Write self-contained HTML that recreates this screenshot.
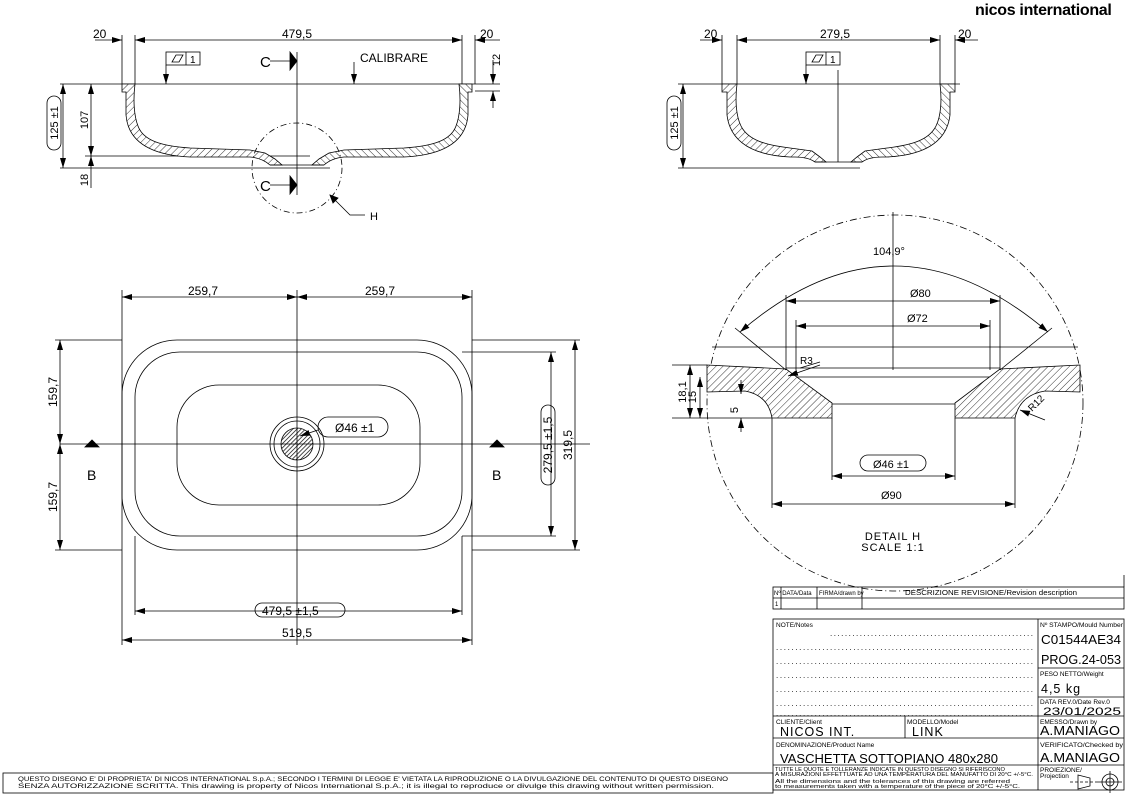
<!DOCTYPE html>
<html><head><meta charset="utf-8"><style>
html,body{margin:0;padding:0;background:#fff;}
svg{display:block;font-family:"Liberation Sans",sans-serif;}
text{fill:#000;}
</style></head><body>
<svg width="1129" height="798" viewBox="0 0 1129 798" xmlns="http://www.w3.org/2000/svg">
<defs>
<pattern id="h" width="5" height="5" patternUnits="userSpaceOnUse" patternTransform="rotate(45)"><rect width="5" height="5" fill="#fff"/><line x1="0" y1="0" x2="0" y2="5" stroke="#000" stroke-width="0.8"/></pattern>
<pattern id="hd" width="3" height="3" patternUnits="userSpaceOnUse" patternTransform="rotate(45)"><rect width="3" height="3" fill="#fff"/><line x1="0" y1="0" x2="0" y2="3" stroke="#000" stroke-width="1.4"/></pattern>
<marker id="a" viewBox="0 0 10 6" refX="10" refY="3" markerWidth="10" markerHeight="6" orient="auto-start-reverse" markerUnits="userSpaceOnUse"><path d="M0,0L10,3L0,6Z" fill="#000"/></marker>
</defs>
<g stroke="#000" stroke-width="0.8" fill="none">
<text x="975" y="15" font-size="16" stroke="none" font-weight="bold" letter-spacing="-0.3">nicos international</text>

<!-- FRONT SECTION -->
<line x1="60" y1="84" x2="500" y2="84"/>
<line x1="60" y1="168" x2="330" y2="168"/>
<line x1="85" y1="156" x2="310" y2="156"/>
<line x1="475" y1="91" x2="500" y2="91"/>
<line x1="122" y1="35" x2="122" y2="84"/><line x1="135" y1="35" x2="135" y2="84"/>
<line x1="462" y1="35" x2="462" y2="84"/><line x1="475" y1="35" x2="475" y2="84"/>
<line x1="95" y1="40" x2="122" y2="40" marker-end="url(#a)"/>
<line x1="135" y1="40" x2="462" y2="40" marker-start="url(#a)" marker-end="url(#a)"/>
<line x1="475" y1="40" x2="500" y2="40" marker-start="url(#a)"/>
<g stroke="none" font-size="12"><text x="93" y="38">20</text><text x="282" y="38">479,5</text><text x="480" y="38">20</text></g>
<path d="M122,84 L135,84 C133,100 134,116 138,126 C143,140 160,146 190,148 L250,150 L265,153 L275,159 L282,165 L270,165 Q262,158 250,157 L190,157 C148,155 128,140 126,115 L126,92 L122,92Z" fill="url(#h)"/>
<path transform="translate(594,0) scale(-1,1)" d="M122,84 L135,84 C133,100 134,116 138,126 C143,140 160,146 190,148 L250,150 L265,153 L275,159 L282,165 L270,165 Q262,158 250,157 L190,157 C148,155 128,140 126,115 L126,92 L122,92Z" fill="url(#h)"/>
<line x1="270" y1="165" x2="324" y2="165"/>
<line x1="297" y1="52" x2="297" y2="195"/>
<circle cx="297" cy="168" r="45" stroke-dasharray="6,3,1,3"/>
<path d="M290,52 L290,70 L297,61Z" fill="#000"/><line x1="270" y1="61" x2="290" y2="61"/>
<path d="M290,176 L290,194 L297,185Z" fill="#000"/><line x1="270" y1="185" x2="290" y2="185"/>
<g stroke="none" font-size="15"><text x="260" y="67">C</text><text x="260" y="191">C</text></g>
<path d="M330,195 L350,215 L365,215"/><path d="M330,195 L338,198 L333,203Z" fill="#000"/>
<text x="370" y="220" font-size="11" stroke="none">H</text>
<rect x="166" y="52" width="34" height="13"/><line x1="186" y1="52" x2="186" y2="65"/>
<path d="M172,62 L176,55 L183,55 L179,62Z"/><text x="190" y="63" font-size="10" stroke="none">1</text>
<line x1="166" y1="65" x2="166" y2="84" marker-end="url(#a)"/>
<line x1="354" y1="62" x2="354" y2="84" marker-end="url(#a)"/>
<text x="360" y="62" font-size="12" stroke="none">CALIBRARE</text>
<line x1="63" y1="84" x2="63" y2="168" marker-start="url(#a)" marker-end="url(#a)"/>
<line x1="91" y1="84" x2="91" y2="156" marker-start="url(#a)" marker-end="url(#a)"/>
<line x1="91" y1="156" x2="91" y2="188" marker-start="url(#a)"/>
<line x1="493" y1="60" x2="493" y2="84" marker-end="url(#a)"/>
<line x1="493" y1="91" x2="493" y2="108" marker-start="url(#a)"/>
<rect x="47" y="96" width="14" height="54" rx="7"/>
<g stroke="none" font-size="11">
<text transform="translate(58,123) rotate(-90)" text-anchor="middle">125 ±1</text>
<text transform="translate(88,120) rotate(-90)" text-anchor="middle">107</text>
<text transform="translate(88,180) rotate(-90)" text-anchor="middle">18</text>
<text transform="translate(500,60) rotate(-90)" text-anchor="middle">12</text>
</g>

<!-- SIDE SECTION -->
<line x1="678" y1="84" x2="960" y2="84"/>
<line x1="678" y1="168" x2="860" y2="168"/>
<line x1="722" y1="35" x2="722" y2="84"/><line x1="737" y1="35" x2="737" y2="84"/>
<line x1="940" y1="35" x2="940" y2="84"/><line x1="955" y1="35" x2="955" y2="84"/>
<line x1="700" y1="40" x2="722" y2="40" marker-end="url(#a)"/>
<line x1="737" y1="40" x2="940" y2="40" marker-start="url(#a)" marker-end="url(#a)"/>
<line x1="955" y1="40" x2="978" y2="40" marker-start="url(#a)"/>
<g stroke="none" font-size="12"><text x="704" y="38">20</text><text x="820" y="38">279,5</text><text x="958" y="38">20</text></g>
<rect x="806" y="52" width="34" height="13"/><line x1="826" y1="52" x2="826" y2="65"/>
<path d="M812,62 L816,55 L823,55 L819,62Z"/><text x="830" y="63" font-size="10" stroke="none">1</text>
<line x1="806" y1="65" x2="806" y2="84" marker-end="url(#a)"/>
<path d="M722,84 L737,84 C735,100 736,116 741,126 C748,140 765,145 790,148 L812,151 L820,157 L826,162 L815,162 Q808,157 795,157 L790,157 C750,155 730,140 727,115 L727,92 L722,92Z" fill="url(#h)"/>
<path transform="translate(1677,0) scale(-1,1)" d="M722,84 L737,84 C735,100 736,116 741,126 C748,140 765,145 790,148 L812,151 L820,157 L826,162 L815,162 Q808,157 795,157 L790,157 C750,155 730,140 727,115 L727,92 L722,92Z" fill="url(#h)"/>
<line x1="815" y1="162" x2="862" y2="162"/>
<line x1="838" y1="70" x2="838" y2="162"/>
<line x1="683" y1="84" x2="683" y2="168" marker-start="url(#a)" marker-end="url(#a)"/>
<rect x="667" y="96" width="14" height="54" rx="7"/>
<text transform="translate(678,123) rotate(-90)" text-anchor="middle" font-size="11" stroke="none">125 ±1</text>

<!-- PLAN -->
<rect x="122" y="340" width="350" height="210" rx="55"/>
<rect x="135" y="352" width="327" height="184" rx="45"/>
<rect x="177" y="385" width="243" height="120" rx="42"/>
<circle cx="297" cy="444" r="27"/><circle cx="297" cy="444" r="23"/><circle cx="297" cy="444" r="16" fill="url(#hd)"/>
<line x1="60" y1="444" x2="590" y2="444"/><line x1="297" y1="290" x2="297" y2="645"/>
<line x1="122" y1="290" x2="122" y2="645"/><line x1="472" y1="290" x2="472" y2="645"/>
<line x1="135" y1="536" x2="135" y2="615"/><line x1="462" y1="536" x2="462" y2="615"/>
<line x1="122" y1="297" x2="297" y2="297" marker-start="url(#a)" marker-end="url(#a)"/>
<line x1="297" y1="297" x2="472" y2="297" marker-start="url(#a)" marker-end="url(#a)"/>
<line x1="135" y1="611" x2="462" y2="611" marker-start="url(#a)" marker-end="url(#a)"/>
<line x1="122" y1="640" x2="472" y2="640" marker-start="url(#a)" marker-end="url(#a)"/>
<line x1="55" y1="340" x2="122" y2="340"/><line x1="55" y1="550" x2="122" y2="550"/>
<line x1="472" y1="340" x2="580" y2="340"/><line x1="472" y1="550" x2="580" y2="550"/>
<line x1="462" y1="352" x2="556" y2="352"/><line x1="462" y1="536" x2="556" y2="536"/>
<line x1="60" y1="340" x2="60" y2="444" marker-start="url(#a)" marker-end="url(#a)"/>
<line x1="60" y1="444" x2="60" y2="550" marker-start="url(#a)" marker-end="url(#a)"/>
<line x1="575" y1="340" x2="575" y2="550" marker-start="url(#a)" marker-end="url(#a)"/>
<line x1="551" y1="352" x2="551" y2="536" marker-start="url(#a)" marker-end="url(#a)"/>
<rect x="541" y="405" width="14" height="80" rx="7"/>
<rect x="255" y="603" width="90" height="14" rx="7"/>
<rect x="318" y="417" width="70" height="20" rx="10"/>
<line x1="318" y1="430" x2="300" y2="436" marker-end="url(#a)"/>
<path d="M85,447 L99,447 L92,440Z" fill="#000"/><path d="M490,447 L504,447 L497,440Z" fill="#000"/>
<g stroke="none" font-size="12">
<text x="188" y="295">259,7</text><text x="365" y="295">259,7</text>
<text x="262" y="615">479,5 ±1,5</text><text x="282" y="637">519,5</text>
<text x="335" y="432">Ø46 ±1</text>
<text transform="translate(57,392) rotate(-90)" text-anchor="middle">159,7</text>
<text transform="translate(57,497) rotate(-90)" text-anchor="middle">159,7</text>
<text transform="translate(572,445) rotate(-90)" text-anchor="middle">319,5</text>
<text transform="translate(552,445) rotate(-90)" text-anchor="middle">279,5 ±1,5</text>
<text x="87" y="480" font-size="14">B</text><text x="492" y="480" font-size="14">B</text>
</g>

<!-- DETAIL H -->
<circle cx="895" cy="403" r="188" stroke-dasharray="7,3,1,3"/>
<line x1="893" y1="212" x2="893" y2="370"/>
<line x1="712" y1="347" x2="1078" y2="347"/>
<line x1="712" y1="377" x2="1078" y2="377"/>
<line x1="786" y1="368" x2="1000" y2="368"/>
<line x1="832" y1="404" x2="955" y2="404"/>
<path d="M707,365 L786,369 L832,403 L832,418 L772,418 Q768,395 745,391 L707,392Z" fill="url(#h)"/>
<path d="M1080,365 L1000,369 L955,403 L955,418 L1015,418 Q1020,395 1045,391 L1080,392Z" fill="url(#h)"/>
<path d="M740,332 Q893,200 1048,332" marker-start="url(#a)" marker-end="url(#a)"/>
<line x1="735" y1="328" x2="786" y2="370"/><line x1="1052" y1="328" x2="1000" y2="370"/>
<line x1="786" y1="295" x2="786" y2="370"/><line x1="1000" y1="295" x2="1000" y2="370"/>
<line x1="796" y1="320" x2="796" y2="370"/><line x1="990" y1="320" x2="990" y2="370"/>
<line x1="786" y1="301" x2="1000" y2="301" marker-start="url(#a)" marker-end="url(#a)"/>
<line x1="796" y1="326" x2="990" y2="326" marker-start="url(#a)" marker-end="url(#a)"/>
<line x1="832" y1="418" x2="832" y2="480"/><line x1="955" y1="418" x2="955" y2="480"/>
<line x1="772" y1="418" x2="772" y2="508"/><line x1="1015" y1="418" x2="1015" y2="508"/>
<line x1="832" y1="476" x2="955" y2="476" marker-start="url(#a)" marker-end="url(#a)"/>
<line x1="772" y1="504" x2="1015" y2="504" marker-start="url(#a)" marker-end="url(#a)"/>
<rect x="860" y="455" width="66" height="16" rx="8"/>
<line x1="672" y1="365" x2="707" y2="365"/><line x1="672" y1="418" x2="772" y2="418"/>
<line x1="690" y1="365" x2="690" y2="418" marker-start="url(#a)" marker-end="url(#a)"/>
<line x1="700" y1="377" x2="700" y2="418" marker-start="url(#a)" marker-end="url(#a)"/>
<line x1="741" y1="380" x2="741" y2="394" marker-end="url(#a)"/>
<line x1="741" y1="432" x2="741" y2="418" marker-end="url(#a)"/>
<line x1="820" y1="365" x2="788" y2="376" marker-end="url(#a)"/><line x1="800" y1="368" x2="820" y2="362"/>
<line x1="1045" y1="420" x2="1020" y2="410" marker-end="url(#a)"/>
<g stroke="none" font-size="11">
<text x="873" y="255">104,9°</text>
<text x="910" y="297">Ø80</text><text x="907" y="322">Ø72</text>
<text x="873" y="468">Ø46 ±1</text><text x="881" y="499">Ø90</text>
<text x="800" y="364" font-size="10">R3</text>
<text transform="translate(1032,412) rotate(-45)" font-size="10">R12</text>
<text transform="translate(686,392) rotate(-90)" text-anchor="middle">18,1</text>
<text transform="translate(696,397) rotate(-90)" text-anchor="middle">15</text>
<text transform="translate(738,410) rotate(-90)" text-anchor="middle">5</text>
<text x="893" y="540" text-anchor="middle" letter-spacing="1">DETAIL H</text>
<text x="893" y="551" text-anchor="middle" letter-spacing="1">SCALE 1:1</text>
</g>

<!-- TITLE BLOCK -->
<rect x="773" y="587" width="351" height="22"/>
<line x1="773" y1="598" x2="1124" y2="598"/>
<line x1="781" y1="587" x2="781" y2="609"/><line x1="817" y1="587" x2="817" y2="609"/><line x1="862" y1="587" x2="862" y2="609"/>
<line x1="1124" y1="575" x2="1124" y2="587"/>
<rect x="773" y="619" width="351" height="171"/>
<line x1="1038" y1="619" x2="1038" y2="790"/>
<line x1="1038" y1="668" x2="1124" y2="668"/><line x1="1038" y1="697" x2="1124" y2="697"/>
<line x1="773" y1="716" x2="1124" y2="716"/><line x1="773" y1="738" x2="1124" y2="738"/>
<line x1="773" y1="765" x2="1124" y2="765"/>
<line x1="905" y1="716" x2="905" y2="738"/>
<rect x="3" y="773" width="770" height="20"/>
<g stroke="none">
<g font-size="6"><text x="774" y="595">Nº DATA/Data</text><text x="819" y="595">FIRMA/drawn by</text><text x="905" y="595" font-size="7" textLength="172" lengthAdjust="spacingAndGlyphs">DESCRIZIONE REVISIONE/Revision description</text><text x="775" y="606">1</text></g>
<g font-size="6.5"><text x="776" y="627">NOTE/Notes</text><text x="1040" y="627" textLength="83" lengthAdjust="spacingAndGlyphs">Nº STAMPO/Mould Number</text>
<text x="1040" y="676">PESO NETTO/Weight</text><text x="1040" y="704">DATA REV.0/Date Rev.0</text>
<text x="776" y="724">CLIENTE/Client</text><text x="907" y="724">MODELLO/Model</text><text x="1040" y="724">EMESSO/Drawn by</text>
<text x="776" y="747">DENOMINAZIONE/Product Name</text><text x="1040" y="747" textLength="83" lengthAdjust="spacingAndGlyphs">VERIFICATO/Checked by</text>
<text x="1040" y="772">PROIEZIONE/</text><text x="1040" y="778">Projection</text></g>
<g font-size="8"><text x="830" y="636" textLength="203" lengthAdjust="spacing">.......................................................</text>
<text x="776" y="650" textLength="257" lengthAdjust="spacing">...................................................................</text>
<text x="776" y="664" textLength="257" lengthAdjust="spacing">...................................................................</text>
<text x="776" y="678" textLength="257" lengthAdjust="spacing">...................................................................</text>
<text x="776" y="692" textLength="257" lengthAdjust="spacing">...................................................................</text>
<text x="776" y="706" textLength="257" lengthAdjust="spacing">...................................................................</text>
<text x="776" y="716" textLength="257" lengthAdjust="spacing">...................................................................</text></g>
<g font-size="12.5"><text x="1041" y="644" textLength="80" lengthAdjust="spacingAndGlyphs">C01544AE34</text><text x="1041" y="664" textLength="80" lengthAdjust="spacingAndGlyphs">PROG.24-053</text>
<text x="1041" y="693" letter-spacing="1">4,5 kg</text><text x="1043" y="715" font-size="11" textLength="78" lengthAdjust="spacingAndGlyphs">23/01/2025</text>
<text x="780" y="736" letter-spacing="1">NICOS INT.</text><text x="912" y="736" letter-spacing="1">LINK</text>
<text x="1040" y="735" textLength="80" lengthAdjust="spacingAndGlyphs">A.MANIAGO</text><text x="1040" y="762" textLength="80" lengthAdjust="spacingAndGlyphs">A.MANIAGO</text>
<text x="780" y="763" textLength="218" lengthAdjust="spacingAndGlyphs">VASCHETTA SOTTOPIANO 480x280</text></g>
<g font-size="5.6"><text x="775" y="771" textLength="230" lengthAdjust="spacingAndGlyphs">TUTTE LE QUOTE E TOLLERANZE INDICATE IN QUESTO DISEGNO SI RIFERISCONO</text>
<text x="775" y="776" textLength="258" lengthAdjust="spacingAndGlyphs">A MISURAZIONI EFFETTUATE AD UNA TEMPERATURA DEL MANUFATTO DI 20°C +/-5°C.</text>
<text x="775" y="783" textLength="235" lengthAdjust="spacingAndGlyphs">All the dimensions and the tolerances of this drawing are referred</text>
<text x="775" y="788" textLength="245" lengthAdjust="spacingAndGlyphs">to measurements taken with a temperature of the piece of 20°C +/-5°C.</text>
<text x="18" y="781" font-size="6.5" textLength="710" lengthAdjust="spacingAndGlyphs">QUESTO DISEGNO E' DI PROPRIETA' DI NICOS INTERNATIONAL S.p.A.; SECONDO I TERMINI DI LEGGE E' VIETATA LA RIPRODUZIONE O LA DIVULGAZIONE DEL CONTENUTO DI QUESTO DISEGNO</text>
<text x="18" y="788" font-size="6.5" textLength="696" lengthAdjust="spacingAndGlyphs">SENZA AUTORIZZAZIONE SCRITTA. This drawing is property of Nicos International S.p.A.; it is illegal to reproduce or divulge this drawing without written permission.</text></g>
</g>
<path d="M1078,775 L1090,778 L1090,786 L1078,789Z"/><line x1="1070" y1="782" x2="1098" y2="782" stroke-dasharray="3,2"/>
<circle cx="1110" cy="782" r="8"/><circle cx="1110" cy="782" r="4"/><line x1="1098" y1="782" x2="1122" y2="782"/><line x1="1110" y1="771" x2="1110" y2="793"/>
</g>
</svg>
</body></html>
